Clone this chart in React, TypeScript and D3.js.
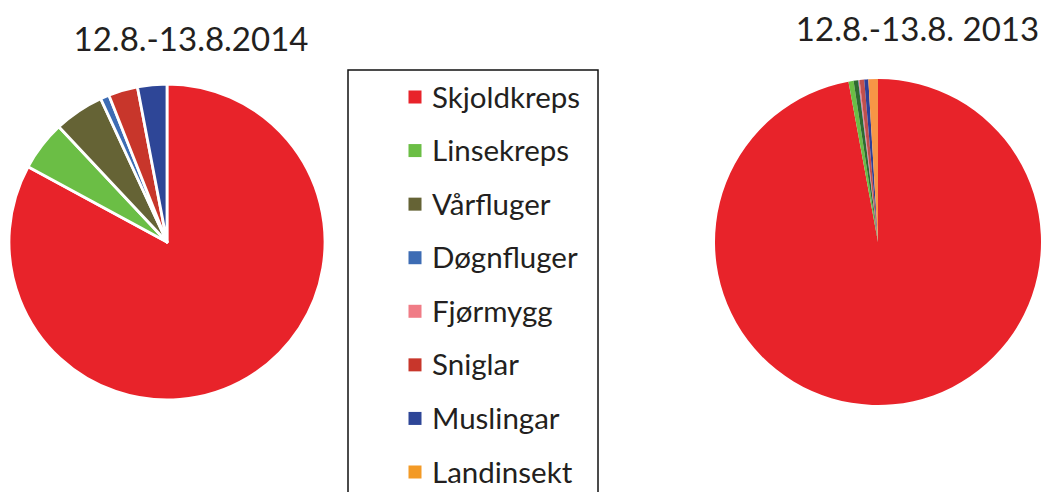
import React from "react";
import * as d3 from "d3";

const categories = ["Skjoldkreps", "Linsekreps", "Vårfluger", "Døgnfluger", "Fjørmygg", "Sniglar", "Muslingar", "Landinsekt"];
const values2014 = [82.9, 5.1, 5.1, 0.9, 0, 3.0, 3.0, 0];
const values2013 = [97.1, 0.5, 0.45, 0.05, 0.1, 0.45, 0.4, 0.95];
const title2014 = "12.8.-13.8.2014";
const title2013 = "12.8.-13.8. 2013";

const legendColors = ["#E8232A", "#6BBE45", "#656335", "#3D6CB4", "#F07C86", "#C8362B", "#2E4697", "#F39A26"];
const colors2013 = ["#E8232A", "#6BBE45", "#2E6B30", "#3D6CB4", "#F07C86", "#C0504D", "#2E3F97", "#F79646"];

const FONT = "Lato, 'Open Sans', sans-serif";

function Pie({ values, colors, cx, cy, r, stroke, strokeWidth }: any) {
  const pie = d3.pie<number>().sort(null).value((d) => d);
  const arcs = pie(values);
  const arc = d3.arc<d3.PieArcDatum<number>>().innerRadius(0).outerRadius(r);
  return (
    <g transform={`translate(${cx},${cy})`}>
      {arcs.map((a, i) =>
        a.value > 0 ? (
          <path key={i} d={arc(a) || ""} fill={colors[i]} stroke={stroke} strokeWidth={strokeWidth} strokeLinejoin="round" />
        ) : null
      )}
    </g>
  );
}

export default function App() {
  const legendY = d3.scaleLinear().domain([0, 7]).range([97, 472]);
  return (
    <svg width={1042} height={492} style={{ position: "absolute", left: 0, top: 0, background: "#fff" }}>
      <rect width={1042} height={492} fill="#fff" />
      <Pie values={values2014} colors={legendColors} cx={167} cy={242} r={158} stroke="#fff" strokeWidth={2.8} />
      <Pie values={values2013} colors={colors2013} cx={878} cy={242} r={163} stroke="none" strokeWidth={0} />
      <text x={191} y={51} textAnchor="middle" fontFamily={FONT} fontSize={33} fill="#231f20">{title2014}</text>
      <text x={917.5} y={41} textAnchor="middle" fontFamily={FONT} fontSize={33} fill="#231f20">{title2013}</text>
      <rect x={348} y={70} width={250} height={440} fill="none" stroke="#111" strokeWidth={1.5} />
      {categories.map((c, i) => (
        <g key={c}>
          <rect x={408.5} y={legendY(i) - 6.5} width={13} height={13} fill={legendColors[i]} />
          <text x={432} y={legendY(i)} dy="0.36em" fontFamily={FONT} fontSize={29.5} fill="#231f20">{c}</text>
        </g>
      ))}
    </svg>
  );
}
